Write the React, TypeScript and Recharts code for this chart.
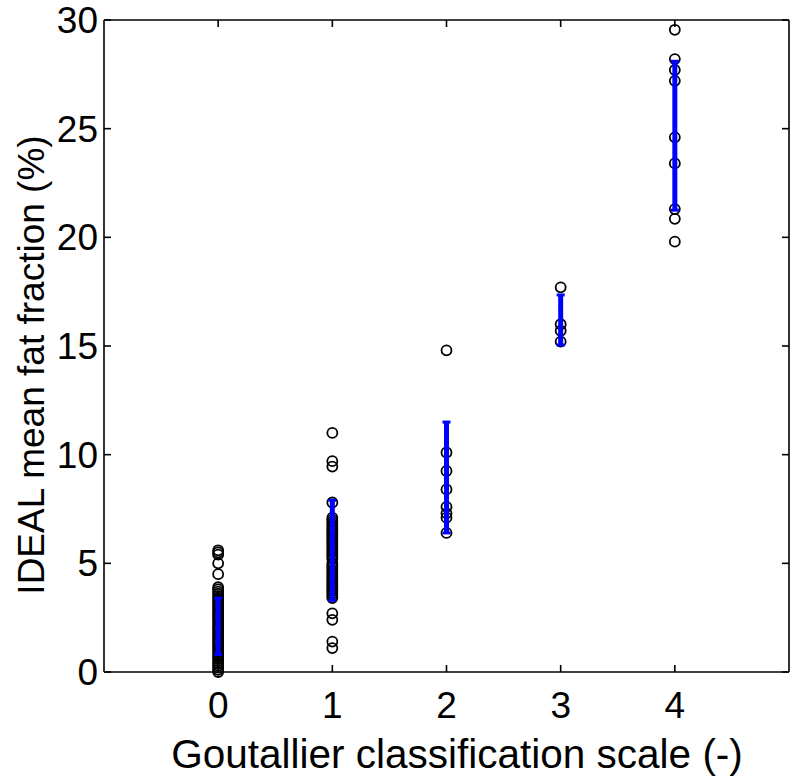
import React from "react";
import { ScatterChart, Scatter, XAxis, YAxis } from "recharts";

const grades = [0, 1, 2, 3, 4];
const xTicks = [0, 1, 2, 3, 4];
const yTicks = [0, 5, 10, 15, 20, 25, 30];

// fat fraction (%) per Goutallier grade
const grade0 = [
  5.6, 5.5, 5.4, 5.0, 4.5, 3.9, 3.8, 3.7, 3.6, 3.5, 3.4, 3.3, 3.2, 3.1, 3.0,
  2.9, 2.8, 2.7, 2.6, 2.5, 2.4, 2.3, 2.2, 2.1, 2.0, 1.9, 1.8, 1.7, 1.6, 1.5,
  1.4, 1.3, 1.2, 1.1, 1.0, 0.9, 0.8, 0.7, 0.6, 0.5, 0.4, 0.3, 0.2, 0.1, 0.0,
];
const grade1 = [
  11.0, 9.7, 9.45, 7.8, 7.1, 7.0, 6.9, 6.8, 6.7, 6.6, 6.5, 6.4, 6.3, 6.2, 6.1,
  6.0, 5.9, 5.8, 5.7, 5.6, 5.5, 5.4, 5.3, 5.2, 5.0, 4.9, 4.8, 4.7, 4.6, 4.5,
  4.4, 4.3, 4.2, 4.1, 4.0, 3.9, 3.8, 3.7, 3.6, 3.5, 3.4, 2.7, 2.4, 1.4, 1.1,
];
const grade2 = [14.8, 10.1, 9.25, 8.4, 7.6, 7.3, 7.1, 6.4];
const grade3 = [17.7, 16.0, 15.7, 15.2];
const grade4 = [29.55, 28.2, 27.7, 27.2, 24.6, 23.4, 21.3, 20.85, 19.8];

// blue bars (low / high end) per grade
const barLow = [0.8, 3.3, 6.4, 15.05, 21.25];
const barHigh = [3.4, 7.9, 11.5, 17.35, 28.1];

const groups = [grade0, grade1, grade2, grade3, grade4];
const points = groups.flatMap((vals, i) =>
  vals.map((v) => ({ x: grades[i], y: v }))
);
const barSegs = grades.map((g, i) => [
  { x: g, y: barLow[i] },
  { x: g, y: barHigh[i] },
]);
const anchor = [{ x: 0, y: 0 }];

const FONT = "'Liberation Sans', Arial, Helvetica, sans-serif";
const BLUE = "#0000ff";

const Ring = (props: any) => (
  <circle
    cx={props.cx}
    cy={props.cy}
    r={5}
    fill="none"
    stroke="#000"
    strokeWidth={1.8}
  />
);

const Cap = (props: any) => (
  <line
    x1={props.cx - 4}
    x2={props.cx + 4}
    y1={props.cy}
    y2={props.cy}
    stroke={BLUE}
    strokeWidth={3}
  />
);

const NoDot = () => <g />;
const NoTick = () => <g />;

const YLabel = () => (
  <text
    x={44}
    y={365}
    transform="rotate(-90 44 365)"
    textAnchor="middle"
    fontFamily={FONT}
    fontSize={37}
    fill="#000"
  >
    IDEAL mean fat fraction (%)
  </text>
);

const XLabel = () => (
  <text
    x={457}
    y={768}
    textAnchor="middle"
    fontFamily={FONT}
    fontSize={40.5}
    fill="#000"
  >
    Goutallier classification scale (-)
  </text>
);

const tickStyle = { fontSize: 37, fill: "#000", fontFamily: FONT };
const axisLine = { stroke: "#000", strokeWidth: 1.6 };
const tickLine = { stroke: "#000", strokeWidth: 1.6 };

export default function App() {
  return (
    <div style={{ position: "absolute", left: 0, top: 0, background: "#fff" }}>
      <ScatterChart
        width={800}
        height={779}
        margin={{ top: 20, right: 11, bottom: 0, left: 0 }}
      >
        {/* main axes with labels */}
        <XAxis
          xAxisId="b"
          type="number"
          dataKey="x"
          domain={[-1, 5]}
          ticks={xTicks}
          interval={0}
          height={107}
          tickSize={0}
          tickMargin={20}
          tick={tickStyle}
          axisLine={axisLine}
          tickLine={false}
          label={<XLabel />}
        />
        <YAxis
          yAxisId="l"
          type="number"
          dataKey="y"
          domain={[0, 30]}
          ticks={yTicks}
          interval={0}
          width={104}
          tickSize={0}
          tickMargin={6}
          tick={tickStyle}
          axisLine={axisLine}
          tickLine={false}
          label={<YLabel />}
        />
        {/* inward tick marks, box edges */}
        <XAxis
          xAxisId="bt"
          mirror
          type="number"
          dataKey="x"
          domain={[-1, 5]}
          ticks={xTicks}
          interval={0}
          tickSize={7}
          tick={<NoTick />}
          axisLine={false}
          tickLine={tickLine}
        />
        <YAxis
          yAxisId="lt"
          mirror
          type="number"
          dataKey="y"
          domain={[0, 30]}
          ticks={yTicks}
          interval={0}
          tickSize={7}
          tick={<NoTick />}
          axisLine={false}
          tickLine={tickLine}
        />
        <XAxis
          xAxisId="t"
          orientation="top"
          mirror
          type="number"
          dataKey="x"
          domain={[-1, 5]}
          ticks={xTicks}
          interval={0}
          tickSize={7}
          tick={<NoTick />}
          axisLine={axisLine}
          tickLine={tickLine}
        />
        <YAxis
          yAxisId="r"
          orientation="right"
          mirror
          type="number"
          dataKey="y"
          domain={[0, 30]}
          ticks={yTicks}
          interval={0}
          tickSize={7}
          tick={<NoTick />}
          axisLine={axisLine}
          tickLine={tickLine}
        />
        <Scatter
          data={anchor}
          xAxisId="bt"
          yAxisId="lt"
          shape={<NoDot />}
          isAnimationActive={false}
        />
        <Scatter
          data={anchor}
          xAxisId="t"
          yAxisId="r"
          shape={<NoDot />}
          isAnimationActive={false}
        />
        <Scatter
          data={points}
          xAxisId="b"
          yAxisId="l"
          shape={<Ring />}
          isAnimationActive={false}
        />
        {barSegs.map((seg, i) => (
          <Scatter
            key={i}
            data={seg}
            xAxisId="b"
            yAxisId="l"
            line={{ stroke: BLUE, strokeWidth: 5 }}
            shape={<Cap />}
            isAnimationActive={false}
          />
        ))}
      </ScatterChart>
    </div>
  );
}
